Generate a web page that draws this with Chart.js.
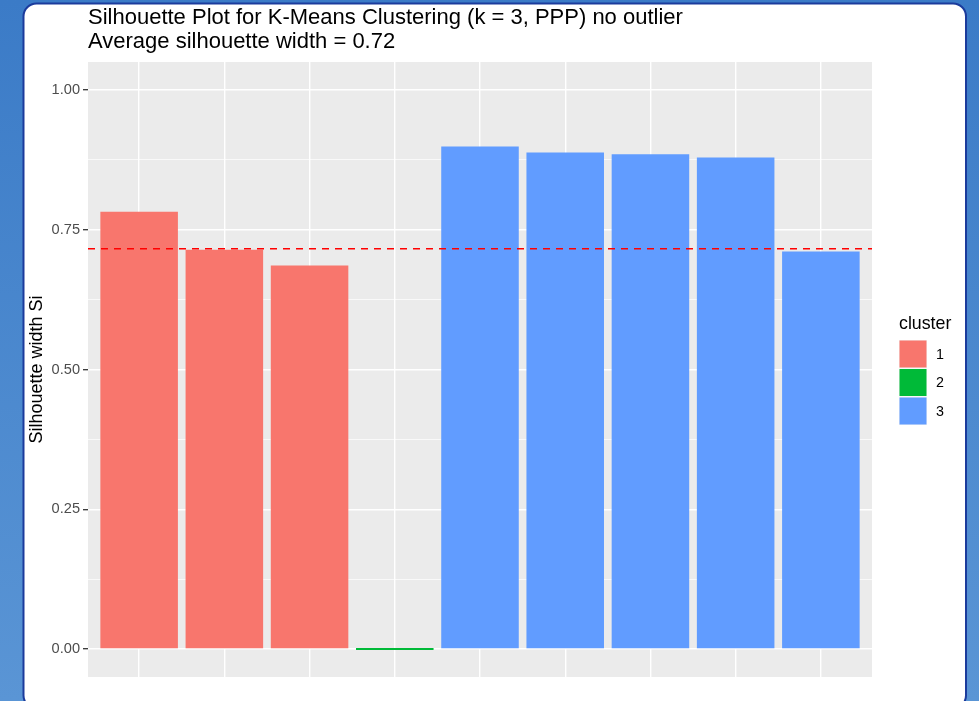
<!DOCTYPE html>
<html>
<head>
<meta charset="utf-8">
<title>Silhouette Plot</title>
<script src="https://cdn.jsdelivr.net/npm/chart.js@4/dist/chart.umd.min.js"></script>
<style>
  html, body { margin: 0; padding: 0; background: #4a88cf; }
  canvas { display: block; }
</style>
</head>
<body>
<canvas id="sil" width="979" height="701"></canvas>
<script>
// Observations (x positions) and their silhouette widths
const observations = [1, 2, 3, 4, 5, 6, 7, 8, 9];
const silWidths    = [0.782, 0.714, 0.686, 0.000, 0.899, 0.888, 0.885, 0.879, 0.711];
const clusters     = ['1', '1', '1', '2', '3', '3', '3', '3', '3'];

// Cluster legend
const clusterNames  = ['1', '2', '3'];
const clusterColors = ['#F8766D', '#00BA38', '#619CFF'];

// Y axis ticks
const yMajorTicks = [0, 0.25, 0.5, 0.75, 1.0];
const yMinorTicks = [0.125, 0.375, 0.625, 0.875];
const yTickLabels = ['0.00', '0.25', '0.50', '0.75', '1.00'];

const FONT = '"Liberation Sans", Arial, Helvetica, sans-serif';
const avgWidth = silWidths.reduce((a, b) => a + b, 0) / silWidths.length;

const isMajor = v => yMajorTicks.some(t => Math.abs(t - v) < 1e-9);

// Blue page, white card and grey plotting panel
const backdrop = {
  id: 'backdrop',
  beforeDraw(chart) {
    const { ctx, chartArea: a } = chart;
    ctx.save();
    const g = ctx.createLinearGradient(0, 0, 0, chart.height);
    g.addColorStop(0, '#3b7bc7');
    g.addColorStop(1, '#5a95d5');
    ctx.fillStyle = g;
    ctx.fillRect(0, 0, chart.width, chart.height);

    ctx.beginPath();
    ctx.roundRect(23.5, 3.5, 942.5, 705, 13);
    ctx.fillStyle = '#ffffff';
    ctx.fill();
    ctx.lineWidth = 2;
    ctx.strokeStyle = '#1b3b9c';
    ctx.stroke();

    ctx.fillStyle = '#EBEBEB';
    ctx.fillRect(a.left, a.top, a.right - a.left, a.bottom - a.top);
    ctx.restore();
  }
};

// Fill legend for the clusters, to the right of the panel
const clusterKey = {
  id: 'clusterKey',
  afterDraw(chart) {
    const { ctx } = chart;
    ctx.save();
    ctx.fillStyle = '#000';
    ctx.textBaseline = 'alphabetic';
    ctx.textAlign = 'left';
    ctx.font = '17.8px ' + FONT;
    ctx.fillText('cluster', 899, 329);
    const x0 = 899, y0 = 340, step = 28.5, size = 28;
    clusterNames.forEach((name, i) => {
      const y = y0 + i * step;
      ctx.fillStyle = '#F2F2F2';
      ctx.fillRect(x0, y, size, size);
      ctx.fillStyle = clusterColors[i];
      ctx.fillRect(x0 + 0.5, y + 0.5, size - 1, size - 1);
      ctx.fillStyle = '#000';
      ctx.font = '14.3px ' + FONT;
      ctx.textBaseline = 'middle';
      ctx.fillText(name, 936, y + size / 2 + 1);
      ctx.textBaseline = 'alphabetic';
    });
    ctx.restore();
  }
};

new Chart(document.getElementById('sil'), {
  type: 'bar',
  data: {
    datasets: [
      {
        type: 'line',
        label: 'average',
        data: [{ x: 0.4, y: avgWidth }, { x: 9.6, y: avgWidth }],
        borderColor: '#FF0000',
        borderWidth: 1.4,
        borderDash: [7, 6],
        pointRadius: 0,
        fill: false,
        order: 0
      },
      {
        label: 'silhouette width',
        data: observations.map((o, i) => ({ x: o, y: silWidths[i] })),
        backgroundColor: clusters.map(c => clusterColors[clusterNames.indexOf(c)]),
        borderWidth: 0,
        minBarLength: 2,
        barPercentage: 0.91,
        categoryPercentage: 1,
        order: 1
      }
    ]
  },
  options: {
    responsive: false,
    maintainAspectRatio: false,
    devicePixelRatio: 1,
    animation: false,
    events: [],
    layout: { padding: { left: 24, right: 107, top: 4, bottom: 24 } },
    plugins: {
      legend: { display: false },
      tooltip: { enabled: false },
      title: {
        display: true,
        fullSize: false,
        align: 'start',
        color: '#000',
        text: [
          'Silhouette Plot for K-Means Clustering (k = 3, PPP) no outlier',
          'Average silhouette width = ' + avgWidth.toFixed(2)
        ],
        font: { family: FONT, size: 22, weight: 'normal', lineHeight: 1.09 },
        padding: { top: 2, bottom: 8 }
      }
    },
    scales: {
      x: {
        type: 'linear',
        min: 0.4,
        max: 9.6,
        bounds: 'data',
        offset: false,
        border: { display: false },
        grid: { offset: false, color: '#FFFFFF', lineWidth: 1.4, drawTicks: false },
        ticks: { display: false },
        afterBuildTicks: s => { s.ticks = observations.map(v => ({ value: v })); },
        afterFit: s => { s.height = 0; }
      },
      y: {
        type: 'linear',
        min: -0.05,
        max: 1.05,
        bounds: 'data',
        border: { display: false },
        grid: {
          color: '#FFFFFF',
          lineWidth: c => isMajor(c.tick.value) ? 1.4 : 0.7,
          tickColor: c => isMajor(c.tick.value) ? '#333333' : 'rgba(0,0,0,0)',
          tickWidth: 1.3,
          tickLength: 5
        },
        ticks: {
          autoSkip: false,
          padding: 3,
          color: '#4D4D4D',
          font: { family: FONT, size: 14.6 },
          callback: v => {
            const i = yMajorTicks.findIndex(t => Math.abs(t - v) < 1e-9);
            return i >= 0 ? yTickLabels[i] : '';
          }
        },
        afterBuildTicks: s => {
          s.ticks = yMajorTicks.concat(yMinorTicks).sort((a, b) => a - b).map(v => ({ value: v }));
        },
        afterFit: s => { s.width = 64; },
        title: {
          display: true,
          text: 'Silhouette width Si',
          color: '#000',
          font: { family: FONT, size: 18 },
          padding: { top: 2, bottom: 0 }
        }
      }
    }
  },
  plugins: [backdrop, clusterKey]
});
</script>
</body>
</html>
